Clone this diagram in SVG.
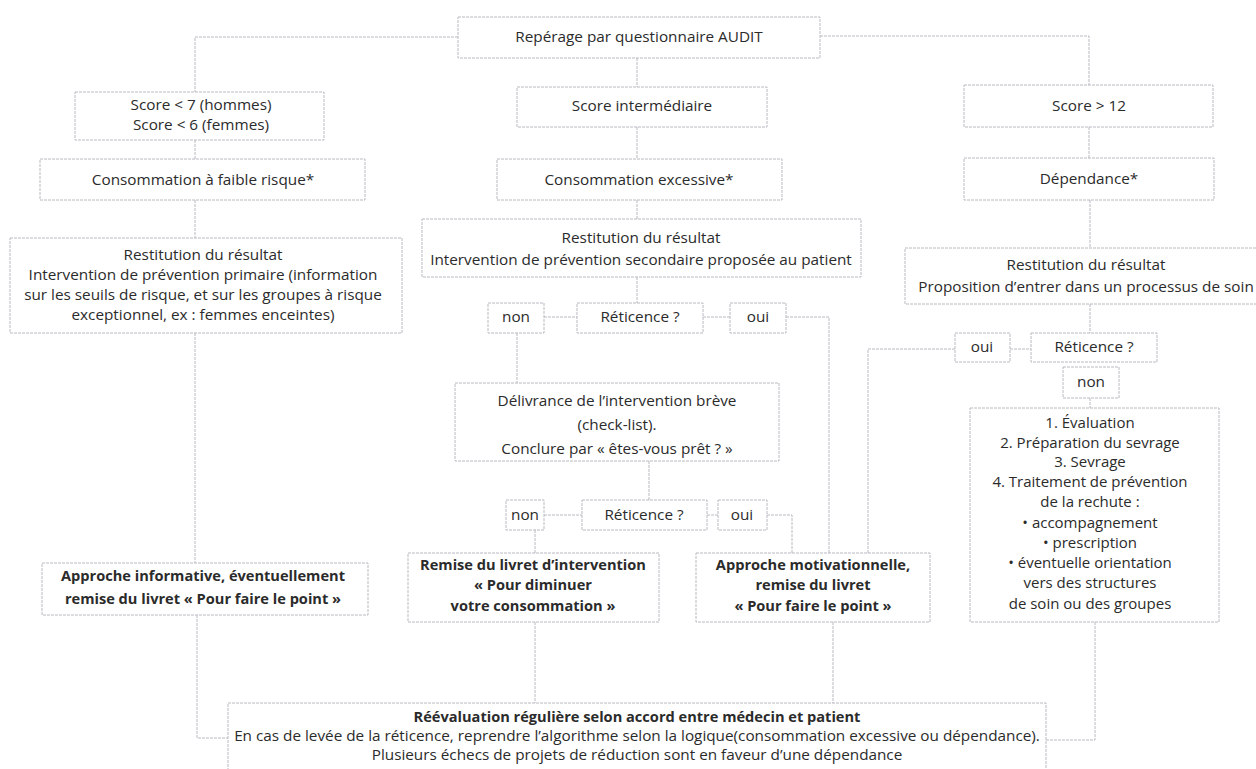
<svg xmlns="http://www.w3.org/2000/svg" width="1256" height="769" viewBox="0 0 1256 769">
<style>
.b{fill:#fff;stroke:#b9b9c2;stroke-width:1;stroke-dasharray:3 1}
.c{fill:none;stroke:#b9b9c2;stroke-width:1;stroke-dasharray:3 1}
text{font-family:"Open Sans","Noto Sans",sans-serif;font-size:15.3px;fill:#2b2b2b;text-anchor:middle}
.bd{font-weight:bold;font-size:14.6px}
.l{font-size:15px}
</style>
<rect width="1256" height="769" fill="#fff"/>
<g id="connectors">
<polyline class="c" points="458,37 195,37 195,92"/>
<polyline class="c" points="820,36 1089,36 1089,85"/>
<line class="c" x1="637" y1="58" x2="637" y2="87"/>
<line class="c" x1="195" y1="140" x2="195" y2="159"/>
<line class="c" x1="637" y1="127" x2="637" y2="159"/>
<line class="c" x1="1089" y1="127" x2="1089" y2="158"/>
<line class="c" x1="195" y1="200" x2="195" y2="238"/>
<line class="c" x1="637" y1="200" x2="637" y2="219"/>
<line class="c" x1="1090" y1="200" x2="1090" y2="248"/>
<line class="c" x1="195" y1="333" x2="195" y2="563"/>
<line class="c" x1="637" y1="277" x2="637" y2="303"/>
<line class="c" x1="544" y1="317" x2="577" y2="317"/>
<line class="c" x1="703" y1="317" x2="730" y2="317"/>
<polyline class="c" points="786,317 829,317 829,553"/>
<line class="c" x1="517" y1="333" x2="517" y2="383"/>
<line class="c" x1="1090" y1="304" x2="1090" y2="333"/>
<line class="c" x1="1010" y1="349" x2="1031" y2="349"/>
<polyline class="c" points="955,349 868,349 868,553"/>
<line class="c" x1="1090" y1="398" x2="1090" y2="408"/>
<line class="c" x1="649" y1="461" x2="649" y2="500"/>
<line class="c" x1="544" y1="515" x2="582" y2="515"/>
<line class="c" x1="707" y1="515" x2="718" y2="515"/>
<polyline class="c" points="767,515 792,515 792,553"/>
<line class="c" x1="535" y1="530" x2="535" y2="553"/>
<polyline class="c" points="197,615 197,738 228,738"/>
<line class="c" x1="535" y1="622" x2="535" y2="703"/>
<line class="c" x1="833" y1="622" x2="833" y2="703"/>
<polyline class="c" points="1095,622 1095,740 1046,740"/>
</g>
<g id="n-audit"><rect class="b" x="458" y="17" width="362" height="41"/><text x="639" y="42">Repérage par questionnaire AUDIT</text></g>
<g id="n-score-low"><rect class="b" x="75" y="92" width="249" height="48"/><text x="201" y="110">Score &lt; 7 (hommes)</text><text x="201" y="130">Score &lt; 6 (femmes)</text></g>
<g id="n-score-mid"><rect class="b" x="517" y="87" width="250" height="40"/><text x="642" y="111">Score intermédiaire</text></g>
<g id="n-score-high"><rect class="b" x="964" y="85" width="249" height="42"/><text x="1089" y="111">Score &gt; 12</text></g>
<g id="n-faible"><rect class="b" x="40" y="159" width="325" height="41"/><text x="203" y="185">Consommation à faible risque*</text></g>
<g id="n-excessive"><rect class="b" x="497" y="159" width="285" height="41"/><text x="639" y="185">Consommation excessive*</text></g>
<g id="n-dependance"><rect class="b" x="964" y="158" width="250" height="42"/><text x="1089" y="184">Dépendance*</text></g>
<g id="n-restit-left"><rect class="b" x="10" y="238" width="392" height="95"/><text x="203" y="260">Restitution du résultat</text><text x="203" y="280">Intervention de prévention primaire (information</text><text x="203" y="300">sur les seuils de risque, et sur les groupes à risque</text><text x="203" y="320">exceptionnel, ex : femmes enceintes)</text></g>
<g id="n-restit-mid"><rect class="b" x="422" y="219" width="439" height="58"/><text x="641" y="243">Restitution du résultat</text><text x="641" y="265">Intervention de prévention secondaire proposée au patient</text></g>
<g id="n-restit-right"><rect class="b" x="905" y="248" width="362" height="56"/><text x="1086" y="270">Restitution du résultat</text><text x="1086" y="292">Proposition d’entrer dans un processus de soin</text></g>
<g id="n-non1"><rect class="b" x="488" y="303" width="56" height="30"/><text x="516" y="322">non</text></g>
<g id="n-ret1"><rect class="b" x="577" y="303" width="126" height="30"/><text x="640" y="322">Réticence ?</text></g>
<g id="n-oui1"><rect class="b" x="730" y="303" width="56" height="30"/><text x="758" y="322">oui</text></g>
<g id="n-oui3"><rect class="b" x="955" y="333" width="55" height="29"/><text x="982" y="352">oui</text></g>
<g id="n-ret3"><rect class="b" x="1031" y="333" width="126" height="29"/><text x="1094" y="352">Réticence ?</text></g>
<g id="n-non3"><rect class="b" x="1063" y="367" width="56" height="31"/><text x="1091" y="387">non</text></g>
<g id="n-delivrance"><rect class="b" x="455" y="383" width="324" height="78"/><text x="617" y="406">Délivrance de l’intervention brève</text><text x="617" y="430">(check-list).</text><text x="617" y="454">Conclure par « êtes-vous prêt ? »</text></g>
<g id="n-non2"><rect class="b" x="506" y="500" width="38" height="30"/><text x="525" y="520">non</text></g>
<g id="n-ret2"><rect class="b" x="582" y="500" width="125" height="30"/><text x="644" y="520">Réticence ?</text></g>
<g id="n-oui2"><rect class="b" x="718" y="500" width="49" height="30"/><text x="742" y="520">oui</text></g>
<g id="n-etapes"><rect class="b" x="970" y="408" width="249" height="214"/>
<text class="l" x="1090" y="428">1. Évaluation</text><text class="l" x="1090" y="448">2. Préparation du sevrage</text><text class="l" x="1090" y="467">3. Sevrage</text><text class="l" x="1090" y="487">4. Traitement de prévention</text><text class="l" x="1090" y="507">de la rechute :</text><text class="l" x="1090" y="528">• accompagnement</text><text class="l" x="1090" y="548">• prescription</text><text class="l" x="1090" y="568">• éventuelle orientation</text><text class="l" x="1090" y="588">vers des structures</text><text class="l" x="1090" y="609">de soin ou des groupes</text></g>
<g id="n-informative"><rect class="b" x="42" y="563" width="326" height="52"/><text class="bd" x="203" y="581">Approche informative, éventuellement</text><text class="bd" x="203" y="604">remise du livret « Pour faire le point »</text></g>
<g id="n-remise"><rect class="b" x="408" y="553" width="251" height="69"/><text class="bd" x="533" y="570">Remise du livret d’intervention</text><text class="bd" x="533" y="590">« Pour diminuer</text><text class="bd" x="533" y="611">votre consommation »</text></g>
<g id="n-motiv"><rect class="b" x="696" y="553" width="234" height="69"/><text class="bd" x="813" y="570">Approche motivationnelle,</text><text class="bd" x="813" y="590">remise du livret</text><text class="bd" x="813" y="611">« Pour faire le point »</text></g>
<g id="n-reeval"><rect class="b" x="228" y="703" width="818" height="80"/><text class="bd" x="637" y="722">Réévaluation régulière selon accord entre médecin et patient</text><text x="637" y="741">En cas de levée de la réticence, reprendre l’algorithme selon la logique(consommation excessive ou dépendance).</text><text x="637" y="760">Plusieurs échecs de projets de réduction sont en faveur d’une dépendance</text></g>
</svg>
